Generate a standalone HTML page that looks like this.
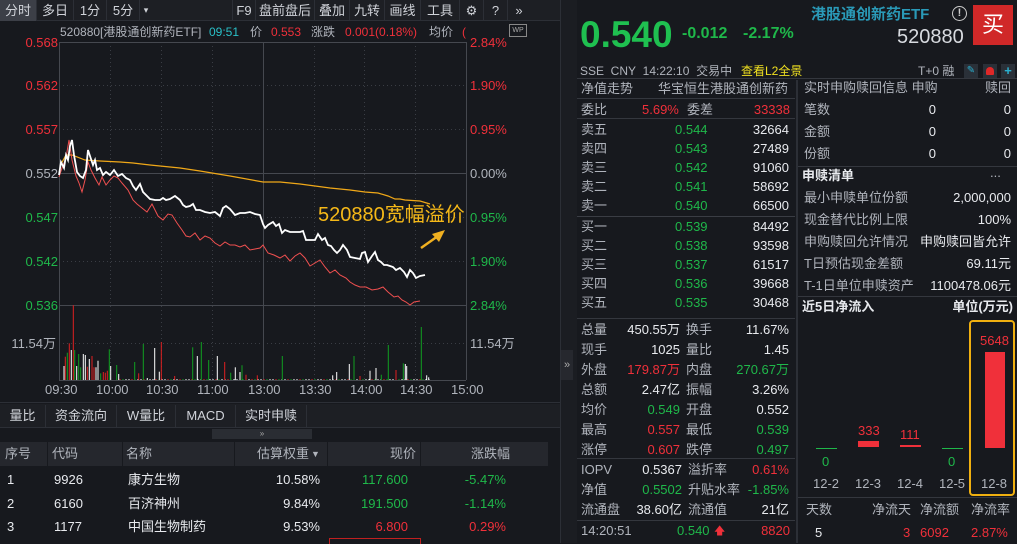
<!DOCTYPE html>
<html><head><meta charset="utf-8">
<style>
*{margin:0;padding:0;box-sizing:border-box}
body{width:1017px;height:543px;background:#17191e;overflow:hidden;position:relative;font-family:"Liberation Sans","Noto Sans CJK SC",sans-serif;color:#c4c8d0}
.t{position:absolute;white-space:nowrap;font-size:13px;line-height:14px}
.r{text-align:right}
.g{color:#1fb84a}.red{color:#f0303a}.w{color:#e8eaee}.gr{color:#b0b4bc}
.hl{position:absolute;height:1px;background:#34373e}
.vl{position:absolute;width:1px;background:#34373e}
.tb{position:absolute;top:0;height:21px;font-size:13px;line-height:21px;text-align:center;color:#d0d3d9;border-right:1px solid #2c2f36}
</style></head><body>
<!-- toolbar -->
<div style="position:absolute;left:0;top:0;width:560px;height:21px;background:#1d1f24;border-bottom:1px solid #2c2f36"></div>
<div class="tb" style="left:0;width:37px;background:#3c3f47">分时</div>
<div class="tb" style="left:37px;width:37px">多日</div>
<div class="tb" style="left:74px;width:33px">1分</div>
<div class="tb" style="left:107px;width:33px">5分</div>
<div class="tb" style="left:140px;width:12px;font-size:9px;border:none">▾</div>
<div class="tb" style="left:232px;width:24px;border-left:1px solid #2c2f36">F9</div>
<div class="tb" style="left:256px;width:59px">盘前盘后</div>
<div class="tb" style="left:315px;width:35px">叠加</div>
<div class="tb" style="left:350px;width:35px">九转</div>
<div class="tb" style="left:385px;width:36px">画线</div>
<div class="tb" style="left:421px;width:39px">工具</div>
<div class="tb" style="left:460px;width:24px">⚙</div>
<div class="tb" style="left:484px;width:24px">?</div>
<div class="tb" style="left:508px;width:22px;border:none">»</div>

<!-- chart header -->
<div class="t gr" style="left:60px;top:25px;font-size:12px">520880[港股通创新药ETF]</div>
<div class="t" style="left:209px;top:25px;color:#2ac0c8;font-size:12px">09:51</div>
<div class="t gr" style="left:250px;top:25px;font-size:12px">价</div>
<div class="t red" style="left:271px;top:25px;font-size:12px">0.553</div>
<div class="t gr" style="left:311px;top:25px;font-size:12px">涨跌</div>
<div class="t red" style="left:345px;top:25px;font-size:12px">0.001(0.18%)</div>
<div class="t gr" style="left:429px;top:25px;font-size:12px">均价</div>
<div class="t red" style="left:462px;top:25px;font-size:12px">(</div>
<div style="position:absolute;left:509px;top:24px;width:18px;height:13px;border:1px solid #888;font-size:7px;color:#aaa;text-align:center;line-height:11px">WP</div>

<svg style="position:absolute;left:0;top:0" width="560" height="400">
<g stroke="#3a3d44" stroke-dasharray="1,3" stroke-width="1">
<line x1="59" y1="85.5" x2="466" y2="85.5"/><line x1="59" y1="129.5" x2="466" y2="129.5"/>
<line x1="59" y1="217.5" x2="466" y2="217.5"/><line x1="59" y1="261.5" x2="466" y2="261.5"/>
<line x1="59" y1="343.5" x2="466" y2="343.5"/>
<line x1="110.5" y1="42" x2="110.5" y2="380"/><line x1="161.5" y1="42" x2="161.5" y2="380"/>
<line x1="212.5" y1="42" x2="212.5" y2="380"/><line x1="314.5" y1="42" x2="314.5" y2="380"/>
<line x1="364.5" y1="42" x2="364.5" y2="380"/><line x1="415.5" y1="42" x2="415.5" y2="380"/>
</g>
<g stroke="#45484f" stroke-width="1">
<line x1="59" y1="42.5" x2="466" y2="42.5"/><line x1="59" y1="173.5" x2="466" y2="173.5"/>
<line x1="59" y1="305.5" x2="466" y2="305.5"/><line x1="59" y1="380.5" x2="466" y2="380.5"/>
<line x1="59.5" y1="42" x2="59.5" y2="380"/><line x1="466.5" y1="42" x2="466.5" y2="380"/>
<line x1="263.5" y1="42" x2="263.5" y2="380"/>
</g>
<g id="vol"></g>
<polyline fill="none" stroke="#f0a818" stroke-width="1.2" points="60,166 66,155 72,155 85,160 100,161 120,162 133,163 150,165 180,168 200,171 230,176 263,182 280,182 300,184 330,188 350,190 365,192 378,193 388,196 395,199 400,199 405,200 420,201 430,204"/>
<polyline fill="none" stroke="#f05050" stroke-width="1" points="59,177 62,168 66,158 69,140 72,160 76,176 79,183 82,192 85,180 88,162 91,170 95,178 99,185 102,177 106,185 110,180 114,176 118,178 122,183 128,190 133,200 137,204 142,208 147,212 152,204 158,216 163,220 168,214 172,215 177,223 182,230 186,236 190,237 195,233 200,240 205,236 210,238 215,243 220,246 225,242 230,245 235,245 240,247 245,245 250,250 255,249 260,248 263,245 268,253 274,255 280,258 285,255 290,261 295,256 300,253 305,258 310,266 315,263 320,260 325,267 330,273 335,270 340,275 346,278 350,282 355,285 360,287 366,287 372,290 378,289 383,287 388,292 394,297 398,296 402,300 406,302 410,305 414,302 420,301"/>
<polyline fill="none" stroke="#ffffff" stroke-width="1.8" points="59,175 61,162 64,168 66,155 68,160 70,146 72,140 74,155 77,172 80,176 83,178 86,170 88,150 90,156 93,165 95,160 97,170 100,168 103,175 106,172 110,175 114,170 118,176 122,174 126,178 130,180 133,186 136,190 140,184 143,192 147,196 150,199 155,200 160,200 163,198 166,200 170,199 175,196 180,200 183,205 186,207 190,206 193,204 196,210 200,210 205,212 210,213 215,212 220,216 223,208 226,206 230,209 235,215 240,213 245,213 250,212 255,214 260,215 263,224 265,228 268,225 273,222 276,226 279,224 282,233 285,230 290,232 295,232 300,232 303,231 306,240 310,240 315,240 318,234 322,240 325,238 328,245 331,246 334,250 337,253 340,250 343,245 347,250 350,257 355,258 360,259 362,253 365,252 368,262 372,256 375,252 378,260 381,262 384,265 387,265 390,266 393,267 396,270 400,268 404,272 407,277 410,270 413,273 416,278 420,276 425,275"/>
<line x1="421" y1="248" x2="438" y2="236" stroke="#f0b020" stroke-width="2.5"/>
<polygon points="445,230 432,234 439,242" fill="#f0b020"/>
</svg>
<div class="t" style="left:318px;top:203px;font-size:20px;line-height:24px;color:#f5b818">520880宽幅溢价</div>

<!-- axis labels -->
<div class="t red r" style="left:0;width:58px;top:36px">0.568</div>
<div class="t red r" style="left:0;width:58px;top:79px">0.562</div>
<div class="t red r" style="left:0;width:58px;top:123px">0.557</div>
<div class="t gr r" style="left:0;width:58px;top:167px">0.552</div>
<div class="t g r" style="left:0;width:58px;top:211px">0.547</div>
<div class="t g r" style="left:0;width:58px;top:255px">0.542</div>
<div class="t g r" style="left:0;width:58px;top:299px">0.536</div>
<div class="t gr r" style="left:0;width:56px;top:337px">11.54万</div>
<div class="t red" style="left:470px;top:36px">2.84%</div>
<div class="t red" style="left:470px;top:79px">1.90%</div>
<div class="t red" style="left:470px;top:123px">0.95%</div>
<div class="t gr" style="left:470px;top:167px">0.00%</div>
<div class="t g" style="left:470px;top:211px">0.95%</div>
<div class="t g" style="left:470px;top:255px">1.90%</div>
<div class="t g" style="left:470px;top:299px">2.84%</div>
<div class="t gr" style="left:470px;top:337px">11.54万</div>
<div class="t gr" style="left:45px;top:383px">09:30</div>
<div class="t gr" style="left:96px;top:383px">10:00</div>
<div class="t gr" style="left:146px;top:383px">10:30</div>
<div class="t gr" style="left:197px;top:383px">11:00</div>
<div class="t gr" style="left:248px;top:383px">13:00</div>
<div class="t gr" style="left:299px;top:383px">13:30</div>
<div class="t gr" style="left:350px;top:383px">14:00</div>
<div class="t gr" style="left:400px;top:383px">14:30</div>
<div class="t gr" style="left:451px;top:383px">15:00</div>

<!-- bottom tabs -->
<div style="position:absolute;left:0;top:402px;width:560px;height:1px;background:#2c2f36"></div>
<div style="position:absolute;left:0;top:404px;width:560px;height:24px;background:#1d1f24;border-bottom:1px solid #2c2f36"></div>
<div class="tb" style="top:405px;left:0;width:46px;height:22px">量比</div>
<div class="tb" style="top:405px;left:46px;width:71px;height:22px">资金流向</div>
<div class="tb" style="top:405px;left:117px;width:59px;height:22px">W量比</div>
<div class="tb" style="top:405px;left:176px;width:60px;height:22px">MACD</div>
<div class="tb" style="top:405px;left:236px;width:71px;height:22px">实时申赎</div>
<div style="position:absolute;left:212px;top:429px;width:100px;height:10px;background:#2a2d33;font-size:8px;color:#aaa;text-align:center;line-height:10px">»</div>
<div style="position:absolute;left:0;top:442px;width:548px;height:24px;background:#25272d"></div>
<div class="vl" style="left:47px;top:442px;height:24px;background:#17191e"></div>
<div class="vl" style="left:122px;top:442px;height:24px;background:#17191e"></div>
<div class="vl" style="left:234px;top:442px;height:24px;background:#17191e"></div>
<div class="vl" style="left:327px;top:442px;height:24px;background:#17191e"></div>
<div class="vl" style="left:420px;top:442px;height:24px;background:#17191e"></div>
<div class="t gr" style="left:5px;top:447px">序号</div>
<div class="t gr" style="left:52px;top:447px">代码</div>
<div class="t gr" style="left:126px;top:447px">名称</div>
<div class="t gr r" style="left:234px;width:75px;top:447px">估算权重</div>
<div class="t gr" style="left:311px;top:447px;font-size:9px">▼</div>
<div class="t gr r" style="left:330px;width:86px;top:447px">现价</div>
<div class="t gr r" style="left:420px;width:90px;top:447px">涨跌幅</div>
<div class="t w" style="left:7px;top:473px">1</div><div class="t w" style="left:54px;top:473px">9926</div><div class="t w" style="left:128px;top:473px">康方生物</div><div class="t w r" style="left:230px;width:90px;top:473px">10.58%</div><div class="t g r" style="left:330px;width:78px;top:473px">117.600</div><div class="t g r" style="left:420px;width:86px;top:473px">-5.47%</div>
<div class="t w" style="left:7px;top:497px">2</div><div class="t w" style="left:54px;top:497px">6160</div><div class="t w" style="left:128px;top:497px">百济神州</div><div class="t w r" style="left:230px;width:90px;top:497px">9.84%</div><div class="t g r" style="left:330px;width:78px;top:497px">191.500</div><div class="t g r" style="left:420px;width:86px;top:497px">-1.14%</div>
<div class="t w" style="left:7px;top:520px">3</div><div class="t w" style="left:54px;top:520px">1177</div><div class="t w" style="left:128px;top:520px">中国生物制药</div><div class="t w r" style="left:230px;width:90px;top:520px">9.53%</div><div class="t red r" style="left:330px;width:78px;top:520px">6.800</div><div class="t red r" style="left:420px;width:86px;top:520px">0.29%</div>
<div style="position:absolute;left:329px;top:538px;width:92px;height:6px;border:1px solid #c02020;border-bottom:none"></div>

<!-- separator between panels -->
<div style="position:absolute;left:560px;top:0;width:17px;height:543px;background:#1b1d22;border-left:1px solid #2c2f36"></div>
<div style="position:absolute;left:561px;top:350px;width:12px;height:30px;background:#26282e;color:#aaa;font-size:11px;text-align:center;line-height:30px">»</div>

<!-- right panel -->
<div class="t" style="left:580px;top:15px;font-size:37px;line-height:40px;font-weight:bold;color:#1fc050">0.540</div>
<div class="t g" style="left:682px;top:25px;font-size:16px;line-height:18px;font-weight:bold">-0.012</div>
<div class="t g" style="left:743px;top:25px;font-size:16px;line-height:18px;font-weight:bold">-2.17%</div>
<div class="t" style="left:811px;top:6px;font-size:15px;line-height:18px;font-weight:bold;color:#2a9ab8">港股通创新药ETF</div>
<div style="position:absolute;left:952px;top:6px;width:15px;height:15px;border:1.5px solid #ccc;border-radius:50%;font-size:11px;color:#ccc;text-align:center;line-height:13px;font-weight:bold">!</div>
<div style="position:absolute;left:973px;top:5px;width:40px;height:40px;background:#d02828;color:#fff;font-size:22px;text-align:center;line-height:40px">买</div>
<div class="t" style="left:897px;top:26px;font-size:20px;line-height:22px;color:#d8dbe0">520880</div>
<div class="t gr" style="left:580px;top:64px;font-size:12px">SSE&nbsp;&nbsp;CNY&nbsp;&nbsp;14:22:10&nbsp;&nbsp;交易中</div>
<div class="t" style="left:741px;top:64px;font-size:12px;color:#f0e020">查看L2全景</div>
<div class="t gr" style="left:918px;top:64px;font-size:12px">T+0 融</div>
<div style="position:absolute;left:964px;top:64px;width:14px;height:14px;background:#2a3038;color:#2ab0d0;font-size:10px;text-align:center;line-height:14px">✎</div>
<div style="position:absolute;left:983px;top:64px;width:14px;height:14px;background:#2a3038"><div style="margin:3px 3px;width:8px;height:8px;background:#e02828;border-radius:4px 4px 1px 1px"></div></div>
<div style="position:absolute;left:1001px;top:64px;width:14px;height:14px;background:#2a3038;color:#2ab0d0;font-size:13px;text-align:center;line-height:14px;font-weight:bold">+</div>

<div class="vl" style="left:796px;top:80px;height:463px;background:#2c2f36;width:2px"></div>
<div class="hl" style="left:577px;top:78px;width:440px"></div>
<div class="t gr" style="left:581px;top:82px">净值走势</div>
<div class="t gr" style="left:658px;top:82px">华宝恒生港股通创新药</div>
<div class="hl" style="left:577px;top:98px;width:218px"></div>
<div class="t gr" style="left:581px;top:103px">委比</div>
<div class="t red" style="left:642px;top:103px">5.69%</div>
<div class="t gr" style="left:687px;top:103px">委差</div>
<div class="t red r" style="left:720px;width:70px;top:103px">33338</div>
<div class="hl" style="left:577px;top:118px;width:218px"></div>
<div id="ob"></div>
<div class="hl" style="left:577px;top:216px;width:218px;background:#3a3d44"></div>
<div class="hl" style="left:577px;top:318px;width:218px"></div>
<div id="st"></div>
<div class="hl" style="left:577px;top:458px;width:218px"></div>
<div class="hl" style="left:577px;top:520px;width:218px"></div>
<div class="t gr" style="left:581px;top:524px">14:20:51</div>
<div class="t g" style="left:677px;top:524px">0.540</div>
<div class="t red" style="left:714px;top:524px;font-size:11px">🡅</div>
<div class="t red r" style="left:720px;width:70px;top:524px">8820</div>

<div class="t gr" style="left:804px;top:81px">实时申购赎回信息 申购</div>
<div class="t gr r" style="left:940px;width:71px;top:81px">赎回</div>
<div class="t gr" style="left:804px;top:103px">笔数</div><div class="t w r" style="left:900px;width:36px;top:103px">0</div><div class="t w r" style="left:970px;width:41px;top:103px">0</div>
<div class="t gr" style="left:804px;top:125px">金额</div><div class="t w r" style="left:900px;width:36px;top:125px">0</div><div class="t w r" style="left:970px;width:41px;top:125px">0</div>
<div class="t gr" style="left:804px;top:147px">份额</div><div class="t w r" style="left:900px;width:36px;top:147px">0</div><div class="t w r" style="left:970px;width:41px;top:147px">0</div>
<div class="hl" style="left:798px;top:166px;width:219px"></div>
<div class="t w" style="left:802px;top:169px;font-weight:bold">申赎清单</div>
<div class="t gr" style="left:990px;top:166px">...</div>
<div class="t gr" style="left:804px;top:191px">最小申赎单位份额</div><div class="t w r" style="left:900px;width:111px;top:191px">2,000,000</div>
<div class="t gr" style="left:804px;top:213px">现金替代比例上限</div><div class="t w r" style="left:900px;width:111px;top:213px">100%</div>
<div class="t gr" style="left:804px;top:235px">申购赎回允许情况</div><div class="t w r" style="left:900px;width:111px;top:235px">申购赎回皆允许</div>
<div class="t gr" style="left:804px;top:257px">T日预估现金差额</div><div class="t w r" style="left:900px;width:111px;top:257px">69.11元</div>
<div class="t gr" style="left:804px;top:279px">T-1日单位申赎资产</div><div class="t w r" style="left:900px;width:111px;top:279px">1100478.06元</div>
<div class="hl" style="left:798px;top:296px;width:219px"></div>
<div class="t w" style="left:802px;top:300px;font-weight:bold">近5日净流入</div>
<div class="t w r" style="left:900px;width:113px;top:300px;font-weight:bold">单位(万元)</div>
<div style="position:absolute;left:969px;top:320px;width:46px;height:176px;border:2px solid #f0b010;border-radius:4px"></div>
<div style="position:absolute;left:985px;top:352px;width:20px;height:96px;background:#f0303a"></div>
<div class="t red" style="left:980px;top:334px">5648</div>
<div style="position:absolute;left:858px;top:441px;width:21px;height:6px;background:#f0303a"></div>
<div class="t red" style="left:858px;top:424px">333</div>
<div style="position:absolute;left:900px;top:445px;width:21px;height:2px;background:#f0303a"></div>
<div class="t red" style="left:900px;top:428px">111</div>
<div style="position:absolute;left:816px;top:448px;width:21px;height:1px;background:#1fb84a"></div>
<div class="t g" style="left:822px;top:455px">0</div>
<div style="position:absolute;left:942px;top:448px;width:21px;height:1px;background:#1fb84a"></div>
<div class="t g" style="left:948px;top:455px">0</div>
<div class="t gr" style="left:813px;top:477px">12-2</div>
<div class="t gr" style="left:855px;top:477px">12-3</div>
<div class="t gr" style="left:897px;top:477px">12-4</div>
<div class="t gr" style="left:939px;top:477px">12-5</div>
<div class="t gr" style="left:981px;top:477px">12-8</div>
<div class="hl" style="left:798px;top:497px;width:219px"></div>
<div class="t gr" style="left:806px;top:503px">天数</div>
<div class="t gr" style="left:872px;top:503px">净流天</div>
<div class="t gr" style="left:920px;top:503px">净流额</div>
<div class="t gr" style="left:971px;top:503px">净流率</div>
<div class="t w" style="left:815px;top:526px">5</div>
<div class="t red" style="left:903px;top:526px">3</div>
<div class="t red" style="left:920px;top:526px">6092</div>
<div class="t red" style="left:971px;top:526px">2.87%</div>

<script>
var ob=[["卖五","0.544","32664",130],["卖四","0.543","27489",149],["卖三","0.542","91060",168],["卖二","0.541","58692",187],["卖一","0.540","66500",206],["买一","0.539","84492",227],["买二","0.538","93598",246],["买三","0.537","61517",265],["买四","0.536","39668",284],["买五","0.535","30468",303]];
var h="";ob.forEach(function(r){var y=r[3]-7;h+='<div class="t gr" style="left:581px;top:'+y+'px">'+r[0]+'</div><div class="t g" style="left:675px;top:'+y+'px">'+r[1]+'</div><div class="t w r" style="left:720px;width:69px;top:'+y+'px">'+r[2]+'</div>';});
document.getElementById("ob").innerHTML=h;
var st=[["总量","450.55万","w","换手","11.67%","w"],["现手","1025","w","量比","1.45","w"],["外盘","179.87万","red","内盘","270.67万","g"],["总额","2.47亿","w","振幅","3.26%","w"],["均价","0.549","g","开盘","0.552","w"],["最高","0.557","red","最低","0.539","g"],["涨停","0.607","red","跌停","0.497","g"]];
h="";st.forEach(function(r,i){var y=323+i*20;h+='<div class="t gr" style="left:581px;top:'+y+'px">'+r[0]+'</div><div class="t '+r[2]+' r" style="left:610px;width:70px;top:'+y+'px">'+r[1]+'</div><div class="t gr" style="left:686px;top:'+y+'px">'+r[3]+'</div><div class="t '+r[5]+' r" style="left:715px;width:74px;top:'+y+'px">'+r[4]+'</div>';});
var s2=[["IOPV","0.5367","w","溢折率","0.61%","red"],["净值","0.5502","g","升贴水率","-1.85%","g"],["流通盘","38.60亿","w","流通值","21亿","w"]];
s2.forEach(function(r,i){var y=463+i*20;h+='<div class="t gr" style="left:581px;top:'+y+'px">'+r[0]+'</div><div class="t '+r[2]+' r" style="left:610px;width:72px;top:'+y+'px">'+r[1]+'</div><div class="t gr" style="left:688px;top:'+y+'px">'+r[3]+'</div><div class="t '+r[5]+' r" style="left:715px;width:74px;top:'+y+'px">'+r[4]+'</div>';});
document.getElementById("st").innerHTML=h;
var C={w:"#ffffff",r:"#e02020",g:"#10a020"};
var b=[[72,228,"w"],[76,200,"r"],[82,188,"g"],[88,160,"r"],[94,180,"w"],[100,46,"r"],[104,180,"g"],[110,228,"w"],[116,192,"g"],[122,232,"g"],[130,192,"w"],[136,195,"w"],[142,230,"r"],[148,207,"w"],[156,198,"r"],[162,232,"r"],[168,232,"w"],[174,212,"w"],[182,250,"g"],[190,246,"r"],[196,248,"r"],[202,242,"r"],[208,178,"g"],[212,228,"w"],[230,225,"g"],[236,252,"w"],[284,216,"g"],[296,250,"r"],[310,162,"g"],[322,264,"w"],[344,174,"w"],[358,245,"w"],[364,156,"r"],[404,258,"r"],[458,172,"g"],[472,198,"w"],[484,156,"g"],[506,210,"g"],[532,198,"w"],[554,216,"r"],[572,248,"g"],[586,232,"w"],[600,246,"w"],[606,226,"g"],[618,254,"r"],[652,256,"r"],[727,198,"g"],[878,256,"w"],[890,246,"w"],[928,222,"w"],[942,198,"g"],[960,258,"r"],[990,242,"w"],[1008,234,"w"],[1024,254,"g"],[1045,165,"g"],[1068,240,"r"],[1090,220,"g"],[1096,222,"w"],[1100,228,"w"],[1144,111,"g"],[1160,256,"w"],[1166,262,"w"]];
var s="";
for(var zx=240;zx<1170;zx+=9){var hh=1+((zx*37)%3);var c=["w","w","r","g"][(zx/9)%4|0];s+='<line x1="'+(40+zx/3).toFixed(1)+'" x2="'+(40+zx/3).toFixed(1)+'" y1="380" y2="'+(380-hh)+'" stroke="'+C[c]+'" stroke-width="1"/>';}
b.forEach(function(v){var x=(40+v[0]/3).toFixed(1);s+='<line x1="'+x+'" x2="'+x+'" y1="380" y2="'+(290+v[1]/3).toFixed(1)+'" stroke="'+C[v[2]]+'" stroke-width="1"/>';});
document.getElementById("vol").innerHTML=s;
</script>
</body></html>
